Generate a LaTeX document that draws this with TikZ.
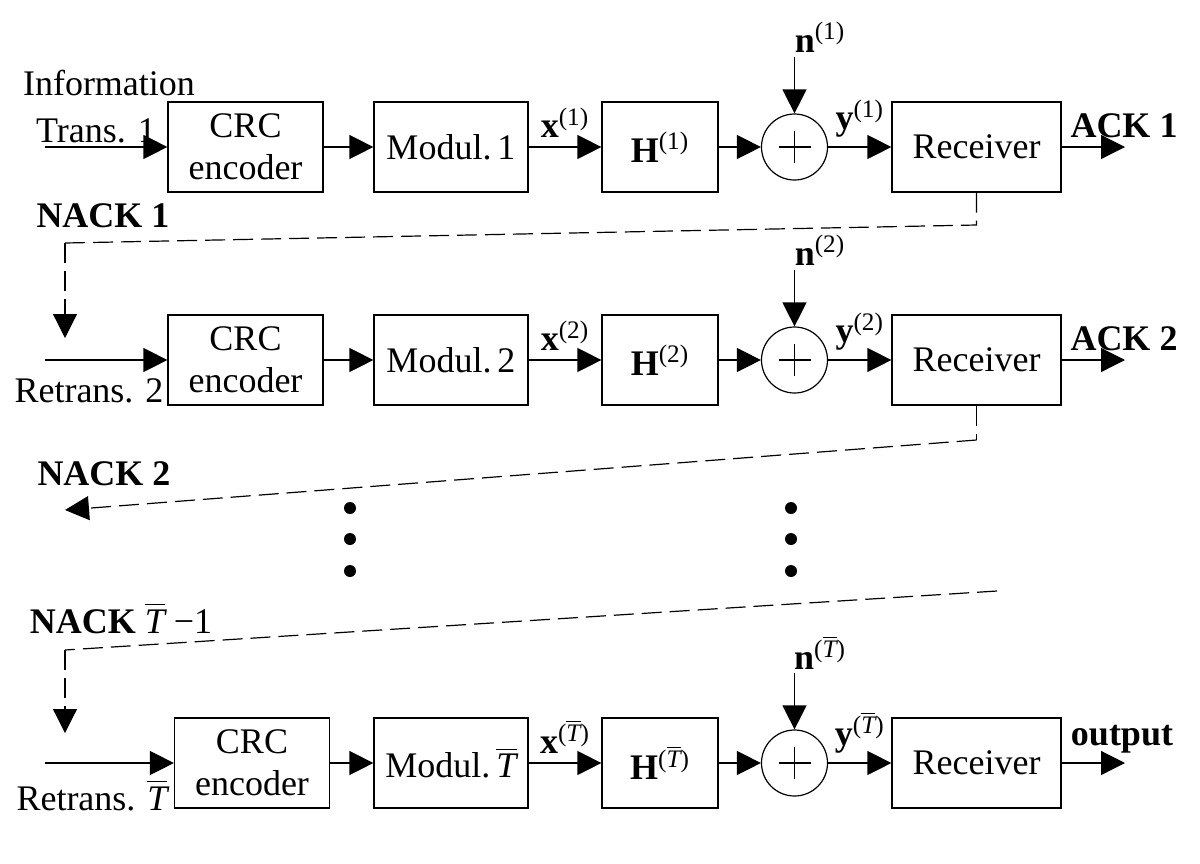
\documentclass[tikz,border=0pt]{standalone}
\usepackage{fontspec}
\setmainfont{Liberation Serif}
\usepackage{amsmath}
\usetikzlibrary{
	calc,
	arrows.meta,
}
\newcommand{\Tb}{\ensuremath{\overline{\textit{T}}}}

\begin{document}
\begin{tikzpicture}[
                    x=0.5pt, y=-0.5pt,
                    font=\fontsize{18}{21}\selectfont,
                    blk/.style={draw, line width=0.6pt, inner sep=0pt, minimum height=45pt, align=center},
                    sumnode/.style={draw, circle, line width=0.6pt, minimum size=33pt, inner sep=0pt},
                    sig/.style={line width=0.6pt, -{Triangle[length=12pt,width=12pt]}},
                    fb/.style={line width=0.6pt, dash pattern=on 10pt off 4pt},
                    bflbl/.style={font=\fontsize{18}{21}\selectfont\bfseries, anchor=base},
                ]
\useasboundingbox (0,0) rectangle (1200,863);
\foreach \r/\y/\cx/\s in {1/147/245.5/1, 2/360/245.5/2, 3/763/252/\Tb} {
    \node[blk, minimum width=77.5pt] (crc\r) at (\cx,\y) {CRC\\encoder};
    \node[blk, minimum width=77pt] (mod\r) at (451,\y) {Modul.\,\s};
    \node[blk, minimum width=58pt] (h\r) at (660,\y) {\textbf{H}\textsuperscript{(\s)}};
    \node[sumnode] (sum\r) at (794.5,\y) {};
    \node[blk, minimum width=84.5pt] (rx\r) at (976.5,\y) {Receiver};
    \node (nl\r) at (820,\y-110) {\textbf{n}\textsuperscript{(\s)}};
    \coordinate (in\r) at (45,\y);
    \coordinate (out\r) at (1125,\y);
    \coordinate (nz\r) at (794.5,\y-90);
    \draw[line width=0.7pt] (sum\r.center) +(-16,0) -- +(16,0) +(0,-16) -- +(0,16);
    \draw[sig] (in\r) -- (crc\r);
    \draw[sig] (crc\r) -- (mod\r);
    \draw[sig] (mod\r) -- node[above=1pt] {\textbf{x}\textsuperscript{(\s)}} (h\r);
    \draw[sig] (h\r) -- (sum\r);
    \draw[sig] (sum\r) -- node[above=1pt] {\textbf{y}\textsuperscript{(\s)}} (rx\r);
    \draw[sig] (nz\r) -- (sum\r);
    \draw[sig] (rx\r) -- (out\r);
}
\node[anchor=base] (info) at (109,95) {Information};
\node[anchor=base] (tr1) at (96,142) {Trans. 1};
\node[anchor=base] (tr2) at (89,402) {Retrans. 2};
\node[anchor=base] (tr3) at (92,810) {Retrans. \Tb};
\node[bflbl] (ack1) at (1124,137) {ACK 1};
\node[bflbl] (ack2) at (1124,350) {ACK 2};
\node[bflbl] (outp) at (1122,745) {output};
\node[bflbl] (nack1) at (103,227) {NACK 1};
\node[bflbl] (nack2) at (104,485) {NACK 2};
\node[bflbl] (nack3) at (121,633) {NACK \textmd{\Tb\ −1}};
\coordinate (fb1a) at (976.5,225);
\coordinate (fb1b) at (65,243);
\coordinate (fb1c) at (65,338);
\coordinate (fb2a) at (976.5,440);
\coordinate (fb2b) at (65,510);
\coordinate (fb3a) at (997,591);
\coordinate (fb3b) at (65,650);
\coordinate (fb3c) at (65,733);
\draw[fb] (rx1.south) -- (fb1a) -- (fb1b);
\draw[fb, -{Triangle[length=12pt,width=12pt]}] (fb1b) -- (fb1c);
\draw[fb] (rx2.south) -- (fb2a);
\draw[fb, -{Triangle[length=12pt,width=12pt]}] (fb2a) -- (fb2b);
\draw[fb] (fb3a) -- (fb3b);
\draw[fb, -{Triangle[length=12pt,width=12pt]}] (fb3b) -- (fb3c);
\foreach \dy in {508,539,571} {
    \fill (350,\dy) circle (3pt);
    \fill (791,\dy) circle (3pt);
}
\end{tikzpicture}
\end{document}
